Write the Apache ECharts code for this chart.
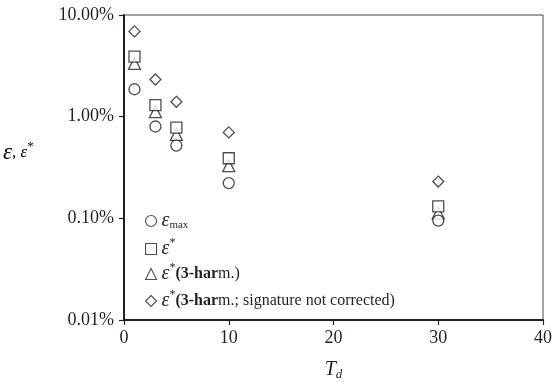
<!DOCTYPE html>
<html><head><meta charset="utf-8">
<script src="https://cdn.jsdelivr.net/npm/echarts@6/dist/echarts.min.js"></script>
<style>html,body{margin:0;padding:0;background:#fff}#c{width:552px;height:382px}</style>
</head><body><div id="c"></div>
<script>
const Td = [1, 3, 5, 10, 30];
const epsMax = [1.86, 0.80, 0.52, 0.222, 0.095];
const epsStar = [3.9, 1.30, 0.78, 0.39, 0.131];
const eps3h = [3.34, 1.12, 0.67, 0.33, 0.113];
const eps3hNC = [6.9, 2.32, 1.40, 0.70, 0.23];
const seriesNames = ['emax', 'estar', 'e3h', 'e3hnc'];
const legendLabels = {
  emax: '{e|ε}{sub|max}',
  estar: '{e|ε}{sup|*}',
  e3h: '{e|ε}{sup|*}{b|(3-har}{n|m.)}',
  e3hnc: '{e|ε}{sup|*}{b|(3-har}{n|m.; signature not corrected)}'
};
const xTicks = [0, 10, 20, 30, 40];
const yTicks = [0.01, 0.1, 1, 10];

const serif = 'Liberation Serif';
const ink = '#231f20';
const symbols = ['circle', 'rect', 'triangle', 'diamond'];
const sizes = [11, 11, 12, 11];
const allData = [epsMax, epsStar, eps3h, eps3hNC];

const rich = {
  e: {fontFamily: serif, fontStyle: 'italic', fontSize: 20, color: ink},
  sub: {fontFamily: serif, fontSize: 11, color: ink, padding: [8, 0, 0, 0]},
  sup: {fontFamily: serif, fontSize: 12, color: ink, padding: [0, 0, 12, 0]},
  b: {fontFamily: serif, fontWeight: 'bold', fontSize: 16, color: ink},
  n: {fontFamily: serif, fontSize: 16, color: ink}
};
const legendTops = [211, 237, 262, 289];

const chart = echarts.init(document.getElementById('c'), null, {renderer: 'canvas'});
chart.setOption({
  animation: false,
  grid: {left: 124, right: 9, top: 15, bottom: 62, show: true, borderColor: '#444', borderWidth: 1,
    containLabel: false, outerBoundsMode: 'none'},
  xAxis: {
    type: 'value', min: xTicks[0], max: xTicks[xTicks.length - 1], interval: 10,
    name: '{t|T}{s|d}', nameLocation: 'middle', nameGap: 38,
    nameTextStyle: {rich: {
      t: {fontFamily: serif, fontStyle: 'italic', fontSize: 20, color: ink},
      s: {fontFamily: serif, fontStyle: 'italic', fontSize: 13, color: ink, padding: [10, 0, 0, 0]}
    }},
    axisLine: {lineStyle: {color: ink, width: 2}},
    axisTick: {show: true, inside: false, length: 5, lineStyle: {color: ink, width: 1.2}},
    axisLabel: {fontFamily: serif, fontSize: 18, color: ink, margin: 9},
    splitLine: {show: false}
  },
  yAxis: {
    type: 'log', logBase: 10, min: yTicks[0], max: yTicks[yTicks.length - 1],
    axisLine: {show: true, lineStyle: {color: ink, width: 2}},
    axisTick: {show: true, inside: false, length: 5, lineStyle: {color: ink, width: 1.2}},
    axisLabel: {fontFamily: serif, fontSize: 18, color: ink, margin: 10,
      formatter: v => (Math.round(v * 10000) / 10000).toFixed(2) + '%'},
    splitLine: {show: false},
    minorTick: {show: false}
  },
  legend: seriesNames.map((n, i) => ({
    data: [n], left: 145, top: legendTops[i], orient: 'vertical',
    itemWidth: 11, itemHeight: 11, itemGap: 4, padding: 0,
    itemStyle: {borderWidth: 1.1},
    formatter: name => legendLabels[name],
    textStyle: {rich: rich, color: ink, fontFamily: serif, fontSize: 16}
  })),
  graphic: [{
    type: 'text', left: 3, top: 140,
    style: {
      text: '{e|ε}{c|, }{e2|ε}{sup|*}',
      rich: {
        e: {fontFamily: serif, fontStyle: 'italic', fontSize: 23, color: ink},
        c: {fontFamily: serif, fontSize: 17, color: ink},
        e2: {fontFamily: serif, fontStyle: 'italic', fontSize: 17, color: ink},
        sup: {fontFamily: serif, fontSize: 13, color: ink, padding: [0, 0, 13, 0]}
      }
    }
  }],
  series: seriesNames.map((n, i) => ({
    name: n, type: 'scatter', symbol: symbols[i], symbolSize: sizes[i],
    itemStyle: {color: '#fff', borderColor: ink, borderWidth: 1.3},
    data: Td.map((t, j) => [t, allData[i][j]]),
    z: 10 - i
  }))
});
</script></body></html>
